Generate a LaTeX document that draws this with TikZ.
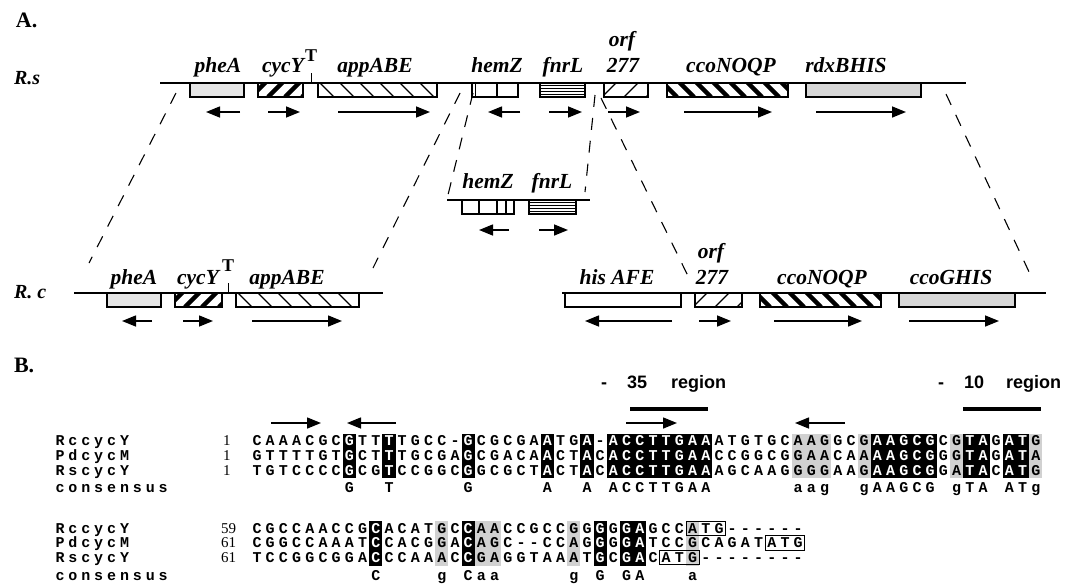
\documentclass[tikz,border=0pt]{standalone}
\usepackage{fontspec}
\setmainfont{Liberation Serif}
\newfontfamily\seqfont{Liberation Mono}
\newfontfamily\headfont{Liberation Sans}
\usetikzlibrary{arrows.meta}

\definecolor{pale}{gray}{0.90}
\definecolor{boxgrey}{gray}{0.84}
\definecolor{simgrey}{gray}{0.82}

% sequence rows: characters placed one per column; "!" makes the next letter white, "." leaves a blank
\newcount\chn
\def\seqrow#1#2#3#4{\def\sx{#1}\def\sy{#2}\def\sstep{#3}\def\scol{black}\seqscan#4\relax}
\def\seqscan#1{%
  \ifx#1\relax\let\seqnext\relax
  \else\if#1!\def\seqnext{\def\scol{white}\seqscan}%
  \else\def\seqnext{\seqput{#1}\seqscan}\fi\fi\seqnext}
\def\seqput#1{%
  \if#1.\else\global\advance\chn by 1 \node[seqch,text=\scol] (ch\the\chn) at (\sx,\sy) {#1};\fi
  \def\scol{black}\pgfmathsetmacro\sx{\sx+\sstep}}
% column shading and start-codon boxes
\newcommand\colshade[5]{%
  \pgfmathsetmacro\xa{257+(#1-1)*13.2-6.6}\pgfmathsetmacro\xb{257+(#2-1)*13.2+6.6}%
  \fill[#5] (\xa,#3) rectangle (\xb,#4);}
\newcommand\atgbox[3]{%
  \pgfmathsetmacro\xa{257+(#1-1)*13.2-6.4}\pgfmathsetmacro\xb{257+(#2-1)*13.2+6.4}%
  \pgfmathsetmacro\ya{#3-12}\pgfmathsetmacro\yb{#3+2.5}%
  \draw[line width=1pt] (\xa,\ya) rectangle (\xb,\yb);}
% gene boxes
\newcommand\gene[5]{\pgfmathsetmacro\gw{#3-#2}\node[gene,minimum width=\gw pt,#5] (#1) at (#2,#4) {};}

\tikzset{
  every node/.style={inner sep=0pt,outer sep=0pt},
  chromo/.style={line width=1.2pt},
  gene/.style={draw,line width=1.1pt,anchor=north west,minimum height=14pt},
  genename/.style={font=\fontsize{21.5}{21.5}\selectfont\bfseries\itshape,anchor=base},
  termin/.style={font=\fontsize{18}{18}\selectfont\bfseries,anchor=base},
  orient/.style={line width=1.5pt,-{Triangle[length=14pt,width=11pt]}},
  link/.style={line width=1.1pt,dash pattern=on 12pt off 11pt},
  stripes/.style n args={3}{path picture={
     \foreach \k in {0,...,14}{
       \draw[line width=#2] ([xshift=\k*#3-24]path picture bounding box.south west) -- ++(#1*24pt,24pt);}}},
  thickfwd/.style={stripes={1}{4.5pt}{17}},
  thickback/.style={stripes={-1}{4.5pt}{17}},
  thinback/.style={stripes={-1}{1.2pt}{20}},
  thinfwd/.style={stripes={1}{1.1pt}{22}},
  hlines/.style={path picture={\foreach \k in {1,...,4}{
       \draw[line width=1pt] ([yshift=-\k*2.8]path picture bounding box.north west) -- ++(80pt,0pt);}}},
  cells/.style={path picture={\foreach \f in {#1}{
       \draw[line width=1.1pt] ([xshift=\f]path picture bounding box.north west) -- ++(0pt,-20pt);}}},
  panel/.style={font=\fontsize{22}{22}\selectfont\bfseries,anchor=base west},
  species/.style={font=\fontsize{20}{20}\selectfont\bfseries\itshape,anchor=base west},
  seqch/.style={font=\seqfont\bfseries\fontsize{15}{15}\selectfont,anchor=base},
  numlab/.style={font=\fontsize{15}{15}\selectfont,anchor=base west},
  region/.style={font=\headfont\bfseries\fontsize{18}{18}\selectfont,anchor=base west},
  motif/.style={line width=4pt},
}

\begin{document}
\begin{tikzpicture}[x=1pt,y=-1pt]
\useasboundingbox (0,0) rectangle (1067,584);
\fill[white] (0,0) rectangle (1067,584);

% ---------------- panel A ----------------
\node[panel] (pa) at (16,27) {A.};
\node[species] (rs) at (14,84) {R.s};
\node[species] (rc) at (14,298) {R. c};

% R. sphaeroides region
\draw[chromo] (160,83) -- (966,83);
\gene{rs-pheA}{190}{244}{83}{fill=pale}
\gene{rs-cycY}{258}{303}{83}{thickfwd}
\gene{rs-appABE}{318}{437}{83}{thinback}
\gene{rs-hemZ}{472}{518}{83}{cells={3.5,25}}
\gene{rs-fnrL}{540}{585}{83}{hlines}
\gene{rs-orf}{604}{648}{83}{thinfwd}
\gene{rs-cco}{667}{788}{83}{thickback}
\gene{rs-rdx}{806}{921}{83}{fill=boxgrey}
\draw[line width=1pt] (311,73) -- (311,83);
\node[termin] (rs-T) at (311,61) {T};
\node[genename] (n-rs-pheA) at (218,72) {pheA};
\node[genename] (n-rs-cycY) at (283,72) {cycY};
\node[genename] (n-rs-appABE) at (375,72) {appABE};
\node[genename] (n-rs-hemZ) at (497,72) {hemZ};
\node[genename] (n-rs-fnrL) at (563,72) {fnrL};
\node[genename] (n-rs-orf) at (622,46) {orf};
\node[genename] (n-rs-277) at (623,72) {277};
\node[genename] (n-rs-cco) at (731,72) {ccoNOQP};
\node[genename] (n-rs-rdx) at (846,72) {rdxBHIS};
\draw[orient] (240,112) -- (206,112);
\draw[orient] (268,112) -- (300,112);
\draw[orient] (338,112) -- (430,112);
\draw[orient] (520,112) -- (488,112);
\draw[orient] (549,112) -- (582,112);
\draw[orient] (608,112) -- (640,112);
\draw[orient] (684,112) -- (772,112);
\draw[orient] (816,112) -- (906,112);

% hemZ-fnrL block placed elsewhere in R. capsulatus
\draw[chromo] (447,200) -- (590,200);
\gene{mid-hemZ}{462}{514}{200}{cells={17,35,44}}
\gene{mid-fnrL}{529}{576}{200}{hlines}
\node[genename] (n-mid-hemZ) at (488,188) {hemZ};
\node[genename] (n-mid-fnrL) at (552,188) {fnrL};
\draw[orient] (509,230) -- (479,230);
\draw[orient] (539,230) -- (568,230);

% R. capsulatus regions
\draw[chromo] (74,293) -- (383,293);
\draw[chromo] (562,293) -- (1046,293);
\gene{rc-pheA}{107}{161}{293}{fill=pale}
\gene{rc-cycY}{175}{222}{293}{thickfwd}
\gene{rc-appABE}{236}{359}{293}{thinback}
\gene{rc-his}{565}{681}{293}{fill=white}
\gene{rc-orf}{695}{742}{293}{thinfwd}
\gene{rc-cco}{760}{881}{293}{thickback}
\gene{rc-ccoG}{899}{1015}{293}{fill=boxgrey}
\draw[line width=1pt] (228,283) -- (228,293);
\node[termin] (rc-T) at (228,271) {T};
\node[genename] (n-rc-pheA) at (134,284) {pheA};
\node[genename] (n-rc-cycY) at (198,284) {cycY};
\node[genename] (n-rc-appABE) at (287,284) {appABE};
\node[genename] (n-rc-his) at (617,284) {his AFE};
\node[genename] (n-rc-orf) at (711,258) {orf};
\node[genename] (n-rc-277) at (712,284) {277};
\node[genename] (n-rc-cco) at (822,284) {ccoNOQP};
\node[genename] (n-rc-ccoG) at (951,284) {ccoGHIS};
\draw[orient] (152,321) -- (122,321);
\draw[orient] (183,321) -- (213,321);
\draw[orient] (252,321) -- (342,321);
\draw[orient] (672,321) -- (585,321);
\draw[orient] (699,321) -- (731,321);
\draw[orient] (774,321) -- (862,321);
\draw[orient] (909,321) -- (999,321);

% dashed correspondence lines
\coordinate (d1a) at (176,93);  \coordinate (d1b) at (89,263);
\coordinate (d2a) at (460,93);  \coordinate (d2b) at (373,268);
\coordinate (d3a) at (473,93);  \coordinate (d3b) at (447,199);
\coordinate (d4a) at (595,95);  \coordinate (d4b) at (585,192);
\coordinate (d5a) at (601,98);  \coordinate (d5b) at (688,276);
\coordinate (d6a) at (946,94);  \coordinate (d6b) at (1030,274);
\draw[link] (d1a) -- (d1b);
\draw[link] (d2a) -- (d2b);
\draw[link] (d3a) -- (d3b);
\draw[link] (d4a) -- (d4b);
\draw[link] (d5a) -- (d5b);
\draw[link] (d6a) -- (d6b);

% ---------------- panel B ----------------
\node[panel] (pb) at (14,372) {B.};
\node[region] (r35) at (601,388) {-\hspace{20pt}35\hspace{24pt}region};
\node[region] (r10) at (938,388) {-\hspace{20pt}10\hspace{22pt}region};
\draw[motif] (630,409) -- (708,409);
\draw[motif] (963,409) -- (1041,409);
\draw[orient] (271,423) -- (321,423);
\draw[orient] (396,423) -- (347,423);
\draw[orient] (626,423) -- (677,423);
\draw[orient] (845,423) -- (795,423);

% block 1 shading
\colshade{42}{44}{434}{478}{simgrey}
\colshade{47}{47}{434}{478}{simgrey}
\colshade{54}{54}{434}{478}{simgrey}
\colshade{60}{60}{434}{478}{simgrey}
\colshade{8}{8}{434}{478}{black}
\colshade{11}{11}{434}{478}{black}
\colshade{17}{17}{434}{478}{black}
\colshade{23}{23}{434}{478}{black}
\colshade{26}{26}{434}{478}{black}
\colshade{28}{35}{434}{478}{black}
\colshade{48}{52}{434}{478}{black}
\colshade{55}{56}{434}{478}{black}
\colshade{58}{59}{434}{478}{black}

% block 2 shading
\colshade{15}{15}{521}{566}{simgrey}
\colshade{18}{19}{521}{566}{simgrey}
\colshade{25}{25}{521}{566}{simgrey}
\colshade{34}{34}{521}{566}{simgrey}
\colshade{10}{10}{521}{566}{black}
\colshade{17}{17}{521}{566}{black}
\colshade{27}{27}{521}{566}{black}
\colshade{29}{30}{521}{566}{black}

% names
\seqrow{60}{445.5}{12.9}{RccycY}
\seqrow{60}{460}{12.9}{PdcycM}
\seqrow{60}{475}{12.9}{RscycY}
\seqrow{60}{492.5}{12.9}{consensus}
\seqrow{60}{533}{12.9}{RccycY}
\seqrow{60}{547.5}{12.9}{PdcycM}
\seqrow{60}{562}{12.9}{RscycY}
\seqrow{60}{580.5}{12.9}{consensus}

\node[numlab] (p1) at (223,445.5) {1};
\node[numlab] (p2) at (223,460) {1};
\node[numlab] (p3) at (223,475) {1};
\node[numlab] (p4) at (221,533) {59};
\node[numlab] (p5) at (221,547.5) {61};
\node[numlab] (p6) at (221,562) {61};

% block 1 sequences
\seqrow{257}{445.5}{13.2}{CAAACGC!GTT!TTGCC-!GCGCGA!ATG!A-!A!C!C!T!T!G!A!AATGTGCAAGGCG!A!A!G!C!GCG!T!AG!A!TG}
\seqrow{257}{460}{13.2}{GTTTTGT!GCT!TTGCGA!GCGACA!ACT!AC!A!C!C!T!T!G!A!ACCGGCGGAACAA!A!A!G!C!GGG!T!AG!A!TA}
\seqrow{257}{475}{13.2}{TGTCCCC!GCG!TCCGGC!GGCGCT!ACT!AC!A!C!C!T!T!G!A!AAGCAAGGGGAAG!A!A!G!C!GGA!T!AC!A!TG}
\seqrow{257}{492.5}{13.2}{.......G..T.....G.....A..A.ACCTTGAA......aag..gAAGCG.gTA.ATg}

% block 2 sequences
\seqrow{257}{533}{13.2}{CGCCAACCG!CACATGC!CAACCGCCGG!GG!G!AGCCATG------}
\seqrow{257}{547.5}{13.2}{CGGCCAAAT!CCACGGA!CAGC--CCAG!GG!G!ATCCGCAGATATG}
\seqrow{257}{562}{13.2}{TCCGGCGGA!CCCAAAC!CGAGGTAAAT!GC!G!ACATG--------}
\seqrow{257}{580.5}{13.2}{.........C....g.Caa.....g.G.GA...a}
\atgbox{34}{36}{533}
\atgbox{40}{42}{547.5}
\atgbox{32}{34}{562}
\end{tikzpicture}
\end{document}
